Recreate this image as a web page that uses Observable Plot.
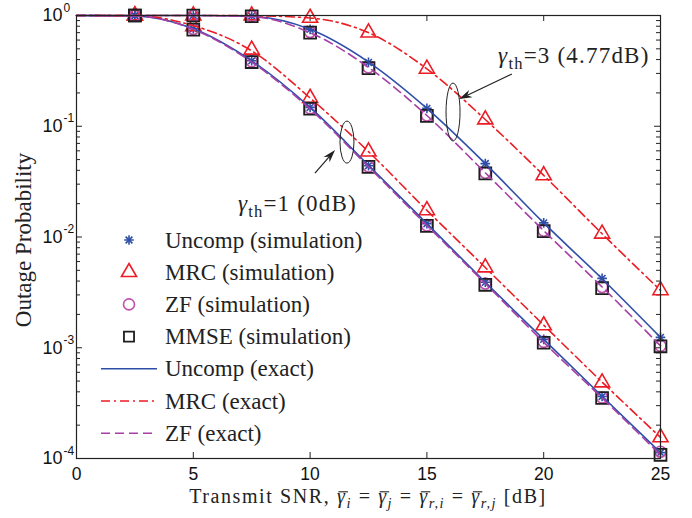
<!DOCTYPE html>
<html><head><meta charset="utf-8">
<script src="https://cdn.jsdelivr.net/npm/d3@7"></script>
<script src="https://cdn.jsdelivr.net/npm/@observablehq/plot@0.6"></script>
<style>
html,body{margin:0;padding:0;background:#fff;}
#chart{width:692px;height:518px;}
</style></head><body><div id="chart"></div>
<script>
// ---------- data ----------
const snrSim = [2.5, 5, 7.5, 10, 12.5, 15, 17.5, 20, 22.5, 25];
const snrExact = [0, 2.5, 5, 7.5, 10, 12.5, 15, 17.5, 20, 22.5, 25];
const xTicks = [0, 5, 10, 15, 20, 25];
const yTicks = [1e-4, 1e-3, 1e-2, 1e-1, 1];

// simulation, gamma_th = 1 (0 dB)
const uncompSimTh1 = [1, 0.76, 0.39, 0.148, 0.044, 0.0132, 0.0039, 0.00119, 0.000363, 0.000113];
const mrcSimTh1    = [1, 0.80, 0.49, 0.18, 0.059, 0.0174, 0.0053, 0.00159, 0.000485, 0.000155];
const zfSimTh1     = [1, 0.755, 0.385, 0.145, 0.0433, 0.0127, 0.0038, 0.00113, 0.000355, 0.000115];
const mmseSimTh1   = [1, 0.745, 0.38, 0.144, 0.0430, 0.0126, 0.0037, 0.00111, 0.000352, 0.000108];
// simulation, gamma_th = 3 (4.77 dB)
const uncompSimTh3 = [1, 1, 0.99, 0.75, 0.377, 0.145, 0.046, 0.0134, 0.00423, 0.00124];
const mrcSimTh3    = [1, 1, 1, 0.95, 0.70, 0.33, 0.115, 0.036, 0.0107, 0.0033];
const zfSimTh3     = [1, 1, 0.99, 0.71, 0.34, 0.125, 0.038, 0.0114, 0.00354, 0.00104];
const mmseSimTh3   = [1, 1, 0.985, 0.70, 0.335, 0.124, 0.0375, 0.0113, 0.00345, 0.00103];
// exact, gamma_th = 1
const uncompExactTh1 = [1, 0.99, 0.76, 0.39, 0.148, 0.0445, 0.0132, 0.0039, 0.00119, 0.000365, 0.000113];
const mrcExactTh1    = [1, 0.995, 0.81, 0.48, 0.18, 0.059, 0.0174, 0.0053, 0.0016, 0.00049, 0.000155];
const zfExactTh1     = [1, 0.99, 0.75, 0.38, 0.143, 0.043, 0.0127, 0.0038, 0.00112, 0.000352, 0.000108];
// exact, gamma_th = 3
const uncompExactTh3 = [1, 1, 1, 0.98, 0.75, 0.38, 0.145, 0.046, 0.0134, 0.0042, 0.00124];
const mrcExactTh3    = [1, 1, 1, 0.995, 0.95, 0.70, 0.33, 0.115, 0.036, 0.0107, 0.0033];
const zfExactTh3     = [1, 1, 1, 0.975, 0.70, 0.34, 0.125, 0.038, 0.0114, 0.00354, 0.00104];

const legendLabels = ["Uncomp (simulation)", "MRC (simulation)", "ZF (simulation)", "MMSE (simulation)",
                      "Uncomp (exact)", "MRC (exact)", "ZF (exact)"];

// ---------- styles ----------
const C = {uncomp: "#2e4ea8", mrc: "#ec1c24", zf: "#a63fa6", zfDot: "#c04fae", mmse: "#1e1e1e"};
const R = {star: 3.2, tri: 5.6, circ: 5.5, sq: 6.7};
const DASH_MRC = "9,4,2,4", DASH_ZF = "9,5";

const rows = (xs, ys, th) => xs.map((x, i) => ({x, y: ys[i], th}));
const join = (xs, a, b) => [...rows(xs, a, 1), ...rows(xs, b, 3)];

const uncompSim = join(snrSim, uncompSimTh1, uncompSimTh3);
const mrcSim = join(snrSim, mrcSimTh1, mrcSimTh3);
const zfSim = join(snrSim, zfSimTh1, zfSimTh3);
const mmseSim = join(snrSim, mmseSimTh1, mmseSimTh3);
const uncompExact = join(snrExact, uncompExactTh1, uncompExactTh3);
const mrcExact = join(snrExact, mrcExactTh1, mrcExactTh3);
const zfExact = join(snrExact, zfExactTh1, zfExactTh3);

const W = 692, H = 518, mL = 76, mR = 32, mT = 15, mB = 60;
const FW = W - mL - mR, FH = H - mT - mB;
const yMinor = d3.range(-4, 0).flatMap(k => d3.range(2, 10).map(m => m * 10 ** k));
const axisCol = "#222";

const chart = Plot.plot({
  width: W, height: H,
  marginLeft: mL, marginRight: mR, marginTop: mT, marginBottom: mB,
  style: {fontFamily: "'Liberation Sans', Arial, sans-serif", fontSize: "18px", background: "#fff", overflow: "visible"},
  x: {domain: [0, 25]},
  y: {type: "log", domain: [1e-4, 1]},
  marks: [
    Plot.axisX({ticks: xTicks, tickSize: 0, tickPadding: 9, fontSize: 17.5, label: null, tickFormat: d => String(d), color: "#111"}),
    Plot.axisY({ticks: yTicks, tickSize: 0, tickPadding: 14, fontSize: 18, label: null,
                tickFormat: d => "10|" + Math.round(Math.log10(d)), color: "#111"}),
    // inward ticks, all four sides
    Plot.tickX(xTicks, {x: d => d, insetTop: FH - 6, stroke: axisCol}),
    Plot.tickX(xTicks, {x: d => d, insetBottom: FH - 6, stroke: axisCol}),
    Plot.tickY(yTicks, {y: d => d, insetRight: FW - 6, stroke: axisCol}),
    Plot.tickY(yTicks, {y: d => d, insetLeft: FW - 6, stroke: axisCol}),
    Plot.tickY(yMinor, {y: d => d, insetRight: FW - 4, stroke: axisCol}),
    Plot.tickY(yMinor, {y: d => d, insetLeft: FW - 4, stroke: axisCol}),
    // simulation markers
    Plot.dot(uncompSim, {x: "x", y: "y", symbol: "plus", r: R.star, stroke: C.uncomp, strokeWidth: 1.6}),
    Plot.dot(uncompSim, {x: "x", y: "y", symbol: "times", r: R.star, stroke: C.uncomp, strokeWidth: 1.6}),
    Plot.dot(mrcSim, {x: "x", y: "y", symbol: "triangle", r: R.tri, stroke: C.mrc, strokeWidth: 1.6, fill: "none"}),
    Plot.dot(zfSim, {x: "x", y: "y", symbol: "circle", r: R.circ, stroke: C.zfDot, strokeWidth: 1.6, fill: "none"}),
    Plot.dot(mmseSim, {x: "x", y: "y", symbol: "square", r: R.sq, stroke: C.mmse, strokeWidth: 1.8, fill: "none"}),
    // exact curves
    Plot.line(uncompExact, {x: "x", y: "y", z: "th", stroke: C.uncomp, strokeWidth: 1.6, curve: "monotone-x"}),
    Plot.line(mrcExact, {x: "x", y: "y", z: "th", stroke: C.mrc, strokeWidth: 1.6, curve: "monotone-x", strokeDasharray: DASH_MRC}),
    Plot.line(zfExact, {x: "x", y: "y", z: "th", stroke: C.zf, strokeWidth: 1.6, curve: "monotone-x", strokeDasharray: DASH_ZF}),
    Plot.frame({stroke: axisCol, strokeWidth: 1.2})
  ]
});
document.getElementById("chart").appendChild(chart);

const svg = d3.select(chart);
const sx = chart.scale("x"), sy = chart.scale("y");
const SERIF = "'Liberation Serif', 'Times New Roman', serif";

// y tick labels: 10 with superscript exponent
svg.selectAll('g[aria-label="y-axis tick label"] text').each(function () {
  const [base, exp] = this.textContent.split("|");
  this.textContent = base;
  const e = this.cloneNode(false);
  e.textContent = exp;
  e.setAttribute("text-anchor", "start");
  e.setAttribute("font-size", "12");
  e.setAttribute("x", "1");
  e.setAttribute("y", "-4");
  this.parentNode.appendChild(e);
});

// helper for math-ish text; parts with bar:1 get an overbar drawn above the glyph
function richText(g, x, y, parts, size, anchor, spacing) {
  const t = g.append("text").attr("x", x).attr("y", y).attr("font-family", SERIF)
    .attr("font-size", size).attr("fill", "#222").attr("text-anchor", anchor || "start")
    .attr("letter-spacing", spacing || 0).style("white-space", "pre");
  let shift = 0, idx = 0;
  const bars = [];
  for (const p of parts) {
    const target = p.sub ? Math.round(size * 0.24) : 0;
    const ts = t.append("tspan").text(p.t);
    if (target !== shift) { ts.attr("dy", target - shift); shift = target; }
    if (p.i) ts.attr("font-style", "italic");
    if (p.sub) ts.attr("font-size", size * 0.72);
    if (p.bar) bars.push(idx);
    idx += p.t.length;
  }
  const node = t.node();
  for (const b of bars) {
    const s = node.getStartPositionOfChar(b), e = node.getEndPositionOfChar(b);
    const yb = s.y - size * 0.56;
    g.append("line").attr("x1", s.x + 1.5).attr("x2", e.x + 1.5).attr("y1", yb).attr("y2", yb)
      .attr("stroke", "#222").attr("stroke-width", 1.1);
  }
  return t;
}

// axis titles
svg.append("text").attr("transform", "translate(31,240) rotate(-90)").attr("text-anchor", "middle")
  .attr("font-family", SERIF).attr("font-size", 23).attr("fill", "#222").text("Outage Probability");

richText(svg, (mL + W - mR) / 2, 503, [
  {t: "Transmit SNR, "}, {t: "γ", i: 1, bar: 1}, {t: "i", i: 1, sub: 1}, {t: " = "},
  {t: "γ", i: 1, bar: 1}, {t: "j", i: 1, sub: 1}, {t: " = "},
  {t: "γ", i: 1, bar: 1}, {t: "r,i", i: 1, sub: 1}, {t: " = "},
  {t: "γ", i: 1, bar: 1}, {t: "r,j", i: 1, sub: 1}, {t: " [dB]"}
], 20, "middle", 1.6);

// legend
const lg = svg.append("g");
const symPath = (type, r) => d3.symbol().type(type).size(Math.PI * r * r)();
legendLabels.forEach((lab, i) => {
  const cy = 240 + i * 32.2, cx = 129;
  const g = lg.append("g");
  if (i === 0) {
    g.append("path").attr("d", symPath(d3.symbolPlus, R.star)).attr("transform", `translate(${cx},${cy})`).attr("stroke", C.uncomp).attr("stroke-width", 1.6).attr("fill", "none");
    g.append("path").attr("d", symPath(d3.symbolTimes, R.star)).attr("transform", `translate(${cx},${cy})`).attr("stroke", C.uncomp).attr("stroke-width", 1.6).attr("fill", "none");
  } else if (i === 1) {
    g.append("path").attr("d", symPath(d3.symbolTriangle, R.tri)).attr("transform", `translate(${cx},${cy})`).attr("stroke", C.mrc).attr("stroke-width", 1.6).attr("fill", "none");
  } else if (i === 2) {
    g.append("path").attr("d", symPath(d3.symbolCircle, R.circ)).attr("transform", `translate(${cx},${cy})`).attr("stroke", C.zfDot).attr("stroke-width", 1.6).attr("fill", "none");
  } else if (i === 3) {
    g.append("path").attr("d", symPath(d3.symbolSquare, R.sq * 0.85)).attr("transform", `translate(${cx},${cy})`).attr("stroke", C.mmse).attr("stroke-width", 1.8).attr("fill", "none");
  } else {
    const col = [C.uncomp, C.mrc, C.zf][i - 4];
    const dash = [null, DASH_MRC, DASH_ZF][i - 4];
    const l = g.append("line").attr("x1", 101).attr("x2", 157).attr("y1", cy).attr("y2", cy)
      .attr("stroke", col).attr("stroke-width", 1.6);
    if (dash) l.attr("stroke-dasharray", dash);
  }
  g.append("text").attr("x", 165).attr("y", cy).attr("dy", "0.33em").attr("text-anchor", "start")
    .attr("font-family", SERIF).attr("font-size", 23).attr("fill", "#222").text(lab);
});

// annotations (data coordinates)
const notes = [
  {ell: [11.6, 0.0712], rx: 7, ry: 21, tail: [10.23, 0.0374], head: [11.09, 0.0605], text: [6.93, 0.0171], val: "=1 (0dB)"},
  {ell: [16.14, 0.133], rx: 7, ry: 29, tail: [18.66, 0.293], head: [16.40, 0.174], text: [18.07, 0.368], val: "=3 (4.77dB)"}
];
const ag = svg.append("g");
for (const n of notes) {
  ag.append("ellipse").attr("cx", sx.apply(n.ell[0])).attr("cy", sy.apply(n.ell[1]))
    .attr("rx", n.rx).attr("ry", n.ry).attr("fill", "none").attr("stroke", "#222").attr("stroke-width", 1);
  const tx = sx.apply(n.tail[0]), ty = sy.apply(n.tail[1]);
  const hx = sx.apply(n.head[0]), hy = sy.apply(n.head[1]);
  const len = Math.hypot(hx - tx, hy - ty), ux = (hx - tx) / len, uy = (hy - ty) / len;
  const nx = -uy, ny = ux, L = 13, w = 4;
  const bx = hx - L * ux, by = hy - L * uy;
  const ix = hx - 0.7 * L * ux, iy = hy - 0.7 * L * uy;
  ag.append("line").attr("x1", tx).attr("y1", ty).attr("x2", ix).attr("y2", iy).attr("stroke", "#222").attr("stroke-width", 1.2);
  ag.append("path").attr("d", `M${hx},${hy}L${bx + w * nx},${by + w * ny}L${ix},${iy}L${bx - w * nx},${by - w * ny}Z`).attr("fill", "#222");
  richText(ag, sx.apply(n.text[0]), sy.apply(n.text[1]), [{t: "γ", i: 1}, {t: "th", sub: 1}, {t: n.val}], 23, "start", 1.2);
}
</script></body></html>
